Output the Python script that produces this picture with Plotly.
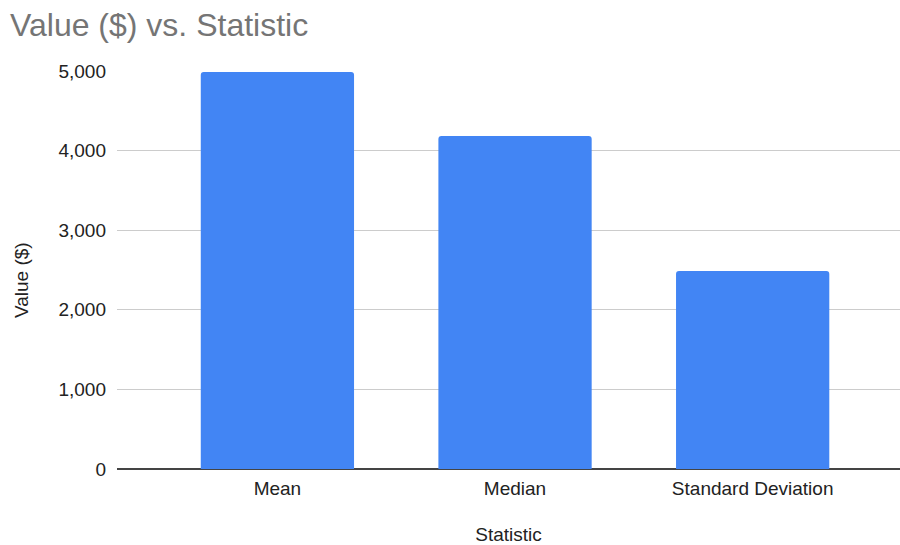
import plotly.graph_objects as go

# Summary statistics of the values, in dollars
statistics = ["Mean", "Median", "Standard Deviation"]
values = [4987, 4183, 2487]

y_ticks = [0, 1000, 2000, 3000, 4000, 5000]

FONT = "Liberation Sans, Arial, sans-serif"
BAR_BLUE = "#4285F4"

fig = go.Figure(
    go.Bar(
        x=statistics,
        y=values,
        width=0.645,
        marker=dict(color=BAR_BLUE, line=dict(width=0), cornerradius=3),
        hovertemplate="%{x}: %{y:,}<extra></extra>",
    )
)

fig.update_layout(
    width=900,
    height=545,
    paper_bgcolor="white",
    plot_bgcolor="white",
    margin=dict(l=117, r=0, t=71, b=76),
    font=dict(family=FONT, color="#222222", size=19),
    title=dict(
        text="Value ($) vs. Statistic",
        font=dict(family=FONT, size=32, color="#757575"),
        x=10 / 900,
        xanchor="left",
        xref="container",
        y=1 - 25 / 545,
        yanchor="middle",
        yref="container",
    ),
    showlegend=False,
)

# Y-axis title sits slightly below the plot's vertical centre
fig.add_annotation(
    text="Value ($)",
    textangle=-90,
    xref="paper",
    yref="paper",
    x=-(117 - 21) / 783,
    y=(469 - 280) / 398,
    xanchor="center",
    yanchor="middle",
    showarrow=False,
    font=dict(family=FONT, size=19, color="#222222"),
)

fig.update_xaxes(
    range=[-0.675, 2.62],
    showgrid=False,
    showline=False,
    zeroline=False,
    ticks="",
    ticklabelstandoff=6,
    tickfont=dict(size=19, color="#222222"),
    title=dict(text="Statistic", font=dict(size=19, color="#222222"), standoff=30),
)

fig.update_yaxes(
    range=[0, 5000],
    tickvals=y_ticks,
    tickformat=",d",
    showgrid=True,
    gridcolor="#cccccc",
    gridwidth=1,
    zeroline=True,
    zerolinecolor="#444444",
    zerolinewidth=1.5,
    showline=False,
    ticks="",
    ticklabelstandoff=10,
    tickfont=dict(size=19, color="#222222"),
)

fig.write_html("out.html")
